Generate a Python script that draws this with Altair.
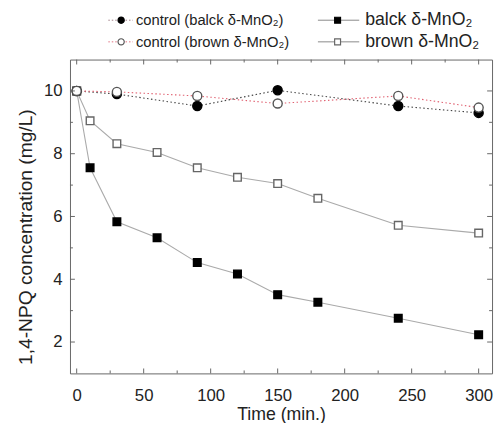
import altair as alt
import pandas as pd

# ---- data ----
time_treat = [0, 10, 30, 60, 90, 120, 150, 180, 240, 300]
black_mno2 = [10.0, 7.55, 5.83, 5.32, 4.53, 4.17, 3.51, 3.27, 2.76, 2.23]
brown_mno2 = [10.0, 9.05, 8.32, 8.04, 7.55, 7.25, 7.05, 6.58, 5.72, 5.47]

time_ctrl = [0, 30, 90, 150, 240, 300]
control_black = [10.0, 9.90, 9.52, 10.02, 9.52, 9.30]
control_brown = [10.0, 9.97, 9.84, 9.60, 9.84, 9.47]

x_major = [0, 50, 100, 150, 200, 250, 300]
x_minor = [25, 75, 125, 175, 225, 275]
y_major = [2, 4, 6, 8, 10]
y_minor = [3, 5, 7, 9]

legend_labels = [
    "control (balck δ-MnO₂)",
    "control (brown δ-MnO₂)",
    "balck δ-MnO₂",
    "brown δ-MnO₂",
]

W, H = 429, 319
FONT = "Liberation Sans"
FRAME = "#666666"

xs = alt.Scale(domain=[-5, 310], nice=False, zero=False)
ys = alt.Scale(domain=[1, 11], nice=False, zero=False)

df_black = pd.DataFrame({"t": time_treat, "c": black_mno2})
df_brown = pd.DataFrame({"t": time_treat, "c": brown_mno2})
df_cb = pd.DataFrame({"t": time_ctrl, "c": control_black})
df_cr = pd.DataFrame({"t": time_ctrl, "c": control_brown})

X = alt.X("t:Q", scale=xs, axis=alt.Axis(
    title="Time (min.)", values=x_major, ticks=False, domain=False, grid=False,
    labelPadding=15, titlePadding=2, labelFontSize=17, titleFontSize=18,
    titleFontWeight="normal", labelColor="#222", titleColor="#222"))
Y = alt.Y("c:Q", scale=ys, axis=alt.Axis(
    title="1,4-NPQ concentration (mg/L)", values=y_major, ticks=False, domain=False,
    grid=False, labelPadding=8, titlePadding=8, labelFontSize=17, titleFontSize=19.5,
    titleY=180, titleFontWeight="normal", labelColor="#222", titleColor="#222"))


def series(df, line_color, dash, shape, fill, stroke, size):
    base = alt.Chart(df)
    line_kw = dict(color=line_color, strokeWidth=1.1)
    if dash:
        line_kw["strokeDash"] = dash
    line = base.mark_line(**line_kw).encode(x=X, y=Y)
    pts = base.mark_point(shape=shape, filled=True, fill=fill, stroke=stroke,
                          strokeWidth=1.4, size=size, opacity=1).encode(x=X, y=Y)
    return line, pts


l1, p1 = series(df_black, "#aaaaaa", None, "square", "#000000", "#000000", 60)
l2, p2 = series(df_brown, "#aaaaaa", None, "square", "#ffffff", "#666666", 60)
l3, p3 = series(df_cb, "#444444", [1.5, 2.5], "circle", "#000000", "#000000", 85)
l4, p4 = series(df_cr, "#e06070", [1.5, 2.5], "circle", "#ffffff", "#555555", 85)


def ticks_x(vals, length, top):
    d = alt.Chart(pd.DataFrame({"v": vals}))
    if top:
        return d.mark_rule(color=FRAME, strokeWidth=1).encode(
            x=alt.X("v:Q", scale=xs), y=alt.value(0), y2=alt.value(length))
    return d.mark_rule(color=FRAME, strokeWidth=1).encode(
        x=alt.X("v:Q", scale=xs), y=alt.value(H), y2=alt.value(H - length))


def ticks_y(vals, length, right):
    d = alt.Chart(pd.DataFrame({"v": vals}))
    if right:
        return d.mark_rule(color=FRAME, strokeWidth=1).encode(
            y=alt.Y("v:Q", scale=ys), x=alt.value(W), x2=alt.value(W - length))
    return d.mark_rule(color=FRAME, strokeWidth=1).encode(
        y=alt.Y("v:Q", scale=ys), x=alt.value(0), x2=alt.value(length))


tick_layers = [
    ticks_x(x_major, 5, False), ticks_x(x_minor, 3, False),
    ticks_x(x_major, 5, True), ticks_x(x_minor, 3, True),
    ticks_y(y_major, 5, False), ticks_y(y_minor, 3, False),
    ticks_y(y_major, 5, True), ticks_y(y_minor, 3, True),
]

# ---- custom legend (above the plot) ----
one = alt.Data(values=[{"a": 1}])
leg_layers = []
leg_specs = [
    # (line x0, x1, marker x, text x, y, line color, dash, shape, fill, stroke, size, font size)
    (39, 64, 52, 67, -40, "#a08088", [1.5, 2.0], "circle", "#000000", "#000000", 40, 15),
    (39, 64, 52, 67, -18, "#e07080", [1.5, 2.0], "circle", "#ffffff", "#555555", 40, 15),
    (252, 294, 272, 300, -40, "#888888", None, "square", "#000000", "#000000", 36, 18),
    (252, 294, 272, 300, -18, "#888888", None, "square", "#ffffff", "#666666", 36, 18),
]
for (x0, x1, mx, tx, yy, lc, dash, shape, fill, stroke, sz, fs), lab in zip(leg_specs, legend_labels):
    rk = dict(color=lc, strokeWidth=1)
    if dash:
        rk["strokeDash"] = dash
    leg_layers.append(alt.Chart(one).mark_rule(**rk).encode(
        x=alt.value(x0), x2=alt.value(x1), y=alt.value(yy)))
    leg_layers.append(alt.Chart(one).mark_point(
        shape=shape, filled=True, fill=fill, stroke=stroke, strokeWidth=1.2,
        size=sz, opacity=1).encode(x=alt.value(mx), y=alt.value(yy)))
    leg_layers.append(alt.Chart(one).mark_text(
        align="left", baseline="middle", fontSize=fs, font=FONT, color="#222").encode(
        x=alt.value(tx), y=alt.value(yy), text=alt.value(lab)))

chart = alt.layer(
    l1, l2, l3, l4, p1, p2, p3, p4, *tick_layers, *leg_layers
).properties(
    width=W, height=H,
    autosize=alt.AutoSizeParams(type="none"),
    padding={"left": 63, "top": 49, "right": 3, "bottom": 47},
).configure(font=FONT).configure_view(stroke=FRAME, strokeWidth=1)

chart.save("out.html", embed_options={"renderer": "svg", "actions": False})
